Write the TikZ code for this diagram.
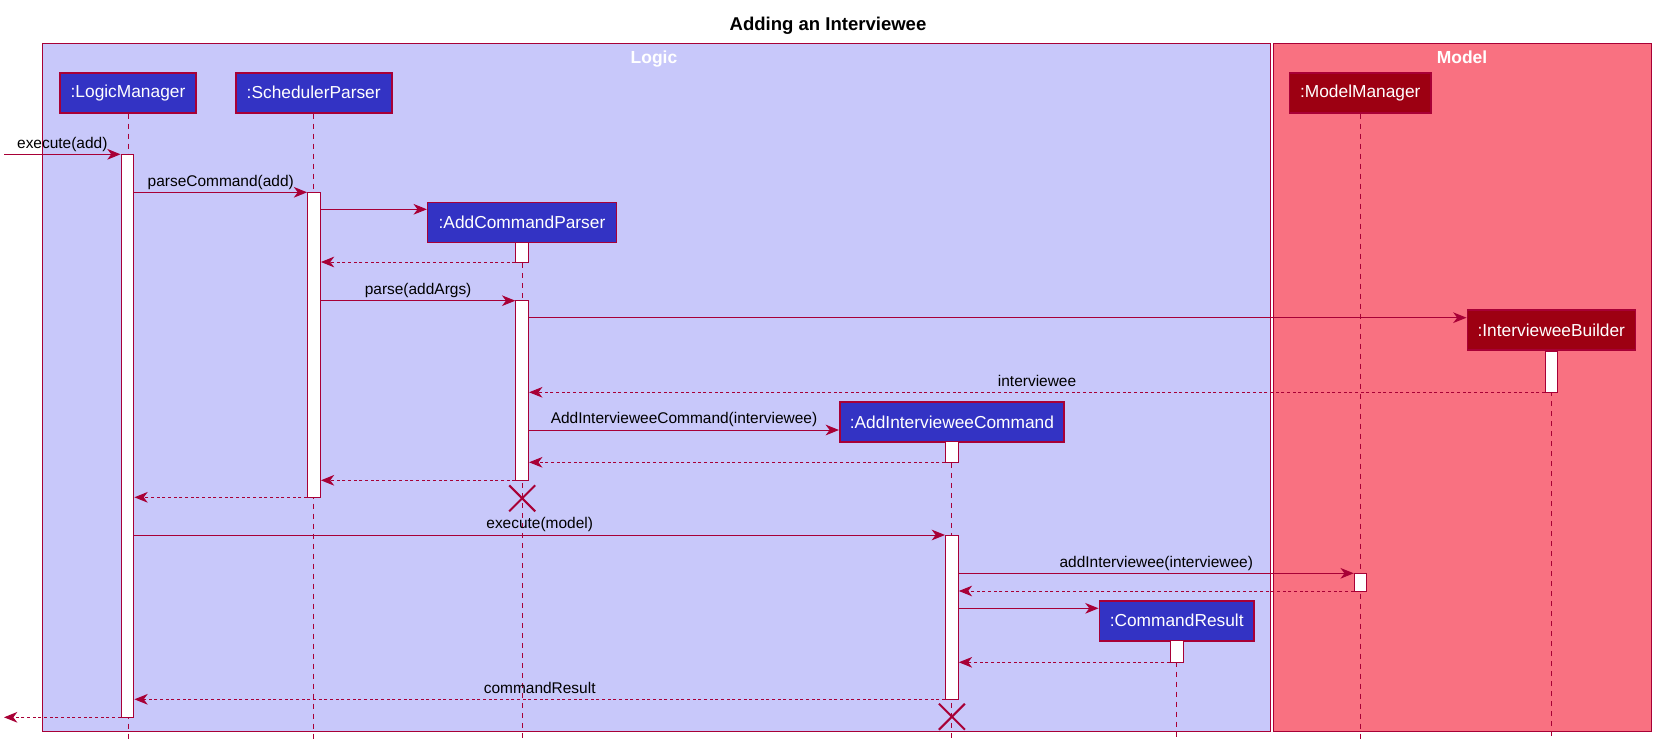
\documentclass[tikz,border=0pt]{standalone}
\usepackage{fontspec}
\setmainfont{Liberation Sans}
\usetikzlibrary{arrows.meta,shapes.misc,fit,calc}
\definecolor{lc}{HTML}{A80036}
\definecolor{logicT}{HTML}{C8C8FA}
\definecolor{logicP}{HTML}{3333C4}
\definecolor{modelT}{HTML}{F97181}
\definecolor{modelP}{HTML}{9D0012}
\begin{document}
\begin{tikzpicture}[x=0.75pt,y=-0.75pt,
  grp/.style={draw=lc, line width=0.9pt, inner sep=0pt},
  grptitle/.style={anchor=base, text=white, inner sep=0pt, font=\bfseries\fontsize{13.1}{15}\selectfont},
  part/.style={draw=lc, line width=1.2pt, text=white, minimum height=30pt, inner sep=0pt, font=\fontsize{13}{15}\selectfont},
  lpart/.style={part, fill=logicP},
  mpart/.style={part, fill=modelP},
  life/.style={draw=lc, line width=0.75pt, dash pattern=on 3.75pt off 3.75pt},
  actbar/.style={draw=lc, fill=white, line width=0.75pt, inner sep=0pt},
  msg/.style={draw=lc, line width=0.75pt, -{Stealth[length=10pt,width=8pt,inset=3pt]}},
  ret/.style={msg, dash pattern=on 2.25pt off 2pt},
  lbl/.style={anchor=base, yshift=4.7pt, inner sep=0pt, text=black, font=\fontsize{11.6}{13}\selectfont},
  destroy/.style={draw=lc, cross out, line width=1.5pt, minimum size=18pt, inner sep=0pt},
]
\useasboundingbox (0,0) rectangle (1664,753);
\fill[white] (0,0) rectangle (1664,753);

% title
\node[anchor=base, inner sep=0pt, font=\bfseries\fontsize{13.9}{16}\selectfont] (title) at (828,30.7) {Adding an Interviewee};

% groups
\node[grp, fill=logicT, fit={(42.3,43.3) (1270.3,731.7)}] (logic) {};
\node[grp, fill=modelT, fit={(1273.5,43.3) (1651.7,731.7)}] (model) {};
\node[grptitle] (logicT) at (654,63.3) {Logic};
\node[grptitle] (modelT) at (1462,63.3) {Model};

% participants
\node[lpart, minimum width=102pt] (LM) at (128,92.7) {:LogicManager};
\node[lpart, minimum width=117pt] (SP) at (313.7,92.7) {:SchedulerParser};
\node[lpart, minimum width=141.5pt] (ACP) at (522,222.3) {:AddCommandParser};
\node[lpart, minimum width=168.2pt] (AIC) at (951.9,422) {:AddIntervieweeCommand};
\node[lpart, minimum width=116pt] (CR) at (1176.7,620.7) {:CommandResult};
\node[mpart, minimum width=106pt] (MM) at (1360.3,92.7) {:ModelManager};
\node[mpart, minimum width=126pt] (IB) at (1551.3,330.2) {:IntervieweeBuilder};

% lifelines
\coordinate (bot) at (0,739);
\foreach \p in {LM,SP,ACP,AIC,CR,MM,IB}
  \draw[life] (\p.south) -- (\p.south |- bot);

% activations
\node[actbar, fit={(121.1,154.3) (133.9,717.3)}] (aLM) {};
\node[actbar, fit={(307.6,192.3) (320.4,497.3)}] (aSP) {};
\node[actbar, fit={(515.8,242.3) (528.6,262)}] (aACP1) {};
\node[actbar, fit={(515.8,300.7) (528.6,480.3)}] (aACP2) {};
\node[actbar, fit={(1545.5,351) (1557.9,392.3)}] (aIB) {};
\node[actbar, fit={(945.5,441.7) (958.3,462.3)}] (aAIC1) {};
\node[actbar, fit={(945.5,535) (958.3,699.3)}] (aAIC2) {};
\node[actbar, fit={(1354.3,573.3) (1366.7,591)}] (aMM) {};
\node[actbar, fit={(1170.3,640.7) (1183.1,662.3)}] (aCR) {};

% message rows
\coordinate (ext) at (4,0);
\coordinate (y1) at (0,154.3);
\coordinate (y2) at (0,192.3);
\coordinate (y3) at (0,209.3);
\coordinate (y4) at (0,262);
\coordinate (y5) at (0,300.7);
\coordinate (y6) at (0,317.7);
\coordinate (y7) at (0,392.3);
\coordinate (y8) at (0,430);
\coordinate (y9) at (0,462.3);
\coordinate (y10) at (0,480.3);
\coordinate (y11) at (0,497.3);
\coordinate (y12) at (0,535);
\coordinate (y13) at (0,573.3);
\coordinate (y14) at (0,591);
\coordinate (y15) at (0,608.3);
\coordinate (y16) at (0,662.3);
\coordinate (y17) at (0,699.3);
\coordinate (y18) at (0,717.3);

% messages
\draw[msg] (ext |- y1) -- node[lbl] (l1) {execute(add)} (aLM.west |- y1);
\draw[msg] (aLM.east |- y2) -- node[lbl] (l2) {parseCommand(add)} (aSP.west |- y2);
\draw[msg] (aSP.east |- y3) -- (ACP.west |- y3);
\draw[ret] (aACP1.west |- y4) -- (aSP.east |- y4);
\draw[msg] (aSP.east |- y5) -- node[lbl] (l5) {parse(addArgs)} (aACP2.west |- y5);
\draw[msg] (aACP2.east |- y6) -- (IB.west |- y6);
\draw[ret] (aIB.west |- y7) -- node[lbl] (l7) {interviewee} (aACP2.east |- y7);
\draw[msg] (aACP2.east |- y8) -- node[lbl] (l8) {AddIntervieweeCommand(interviewee)} (AIC.west |- y8);
\draw[ret] (aAIC1.west |- y9) -- (aACP2.east |- y9);
\draw[ret] (aACP2.west |- y10) -- (aSP.east |- y10);
\draw[ret] (aSP.west |- y11) -- (aLM.east |- y11);
\node[destroy] (x1) at (522.2,498.3) {};
\draw[msg] (aLM.east |- y12) -- node[lbl] (l12) {execute(model)} (aAIC2.west |- y12);
\draw[msg] (aAIC2.east |- y13) -- node[lbl] (l13) {addInterviewee(interviewee)} (aMM.west |- y13);
\draw[ret] (aMM.west |- y14) -- (aAIC2.east |- y14);
\draw[msg] (aAIC2.east |- y15) -- (CR.west |- y15);
\draw[ret] (aCR.west |- y16) -- (aAIC2.east |- y16);
\draw[ret] (aAIC2.west |- y17) -- node[lbl] (l17) {commandResult} (aLM.east |- y17);
\node[destroy] (x2) at (951.9,716.7) {};
\draw[ret] (aLM.west |- y18) -- (ext |- y18);
\end{tikzpicture}
\end{document}
